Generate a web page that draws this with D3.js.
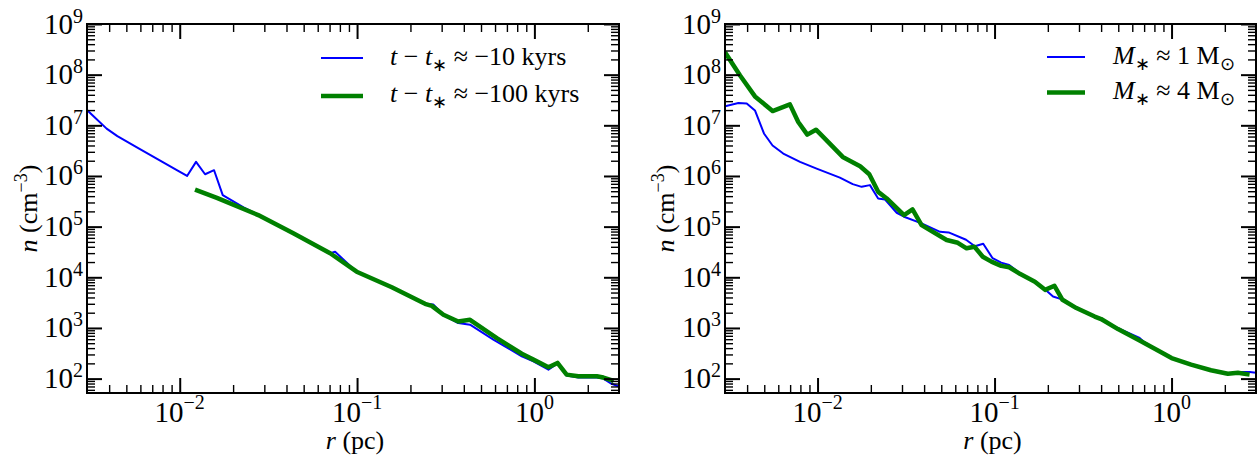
<!DOCTYPE html>
<html><head><meta charset="utf-8">
<script src="https://cdn.jsdelivr.net/npm/d3@7"></script>
<style>body{margin:0;background:#fff} svg{display:block}</style>
</head><body><svg id="c" width="1258" height="459"></svg>
<script>
// ---------- data ----------
const xDomain = [0.003, 3];
const yDomain = [52, 1e9];
const xMajorExp = [-2, -1, 0];
const yMajorExp = [2, 3, 4, 5, 6, 7, 8, 9];

// Left panel: t - t* ~ -10 kyrs (blue), -100 kyrs (green)
const leftBlueR = [0.003,0.00387,0.00445,0.0058,0.0098,0.0110,0.01236,0.0139,0.01562,0.01748,0.0229,0.0277,0.0437,0.0705,0.0752,0.082,0.0995,0.157,0.2417,0.269,0.307,0.372,0.4335,0.587,0.849,0.987,1.2,1.35,1.52,1.77,2.25,2.45,2.7,3.0];
const leftBlueN = [2.0e7,8.6e6,6.1e6,3.6e6,1.26e6,1.0e6,1.9e6,1.08e6,1.3e6,4.2e5,2.4e5,1.72e5,7.5e4,3.0e4,3.2e4,2.4e4,1.27e4,6.3e3,3.0e3,2.9e3,1.8e3,1.25e3,1.16e3,5.9e2,2.75e2,2.2e2,1.5e2,2.0e2,1.15e2,1.05e2,1.05e2,1.0e2,8.0e1,7.0e1];
const leftGreenR = [0.0122,0.0162,0.0277,0.0437,0.0705,0.0995,0.157,0.2417,0.264,0.307,0.372,0.4335,0.614,0.849,0.987,1.2,1.35,1.52,1.77,2.25,2.45,2.8];
const leftGreenN = [5.4e5,3.7e5,1.69e5,7.4e4,2.98e4,1.29e4,6.35e3,3.0e3,2.73e3,1.82e3,1.34e3,1.45e3,6.3e2,3.1e2,2.37e2,1.67e2,2.04e2,1.2e2,1.11e2,1.11e2,1.05e2,9.0e1];

// Right panel: M* ~ 1 Msun (blue), 4 Msun (green)
const rightBlueR = [0.003,0.00357,0.00398,0.00443,0.00498,0.00557,0.0064,0.00796,0.00988,0.01337,0.0158,0.01775,0.01977,0.022,0.024,0.028,0.0308,0.0387,0.0492,0.055,0.069,0.0774,0.0863,0.0975,0.109,0.121,0.139,0.169,0.196,0.214,0.238,0.296,0.368,0.4,0.498,0.66,0.7,0.838,1.0,1.29,1.67,2.08,2.37,2.76,3.0];
const rightBlueN = [2.37e7,2.75e7,2.7e7,1.97e7,6.9e6,4.0e6,2.77e6,1.9e6,1.4e6,9.3e5,6.9e5,6.1e5,6.6e5,3.6e5,3.44e5,1.88e5,1.57e5,1.16e5,7.9e4,7.7e4,5.5e4,4.1e4,4.6e4,2.38e4,1.95e4,1.75e4,1.2e4,8.2e3,5.47e3,4.17e3,3.7e3,2.47e3,1.68e3,1.5e3,9.95e2,6.33e2,5.3e2,3.6e2,2.55e2,1.89e2,1.46e2,1.25e2,1.35e2,1.35e2,1.3e2];
const rightGreenR = [0.003,0.00365,0.00443,0.00557,0.00698,0.00778,0.00875,0.0098,0.0110,0.01387,0.0174,0.0196,0.022,0.0246,0.0308,0.0344,0.0387,0.0536,0.062,0.0695,0.077,0.0858,0.096,0.109,0.121,0.139,0.169,0.193,0.218,0.242,0.29,0.368,0.4,0.498,0.66,0.838,1.0,1.29,1.67,2.08,2.37,2.76];
const rightGreenN = [2.77e8,9.6e7,3.72e7,1.91e7,2.59e7,1.16e7,6.56e6,8.2e6,5.47e6,2.38e6,1.56e6,1.08e6,4.86e5,3.6e5,1.69e5,2.19e5,1.07e5,5.44e4,4.8e4,3.73e4,4.0e4,2.55e4,2.04e4,1.68e4,1.58e4,1.17e4,8.2e3,5.65e3,6.8e3,3.6e3,2.47e3,1.68e3,1.5e3,9.5e2,5.67e2,3.6e2,2.55e2,1.89e2,1.46e2,1.25e2,1.3e2,1.2e2];

const NB = "\u00a0";
const leftLegend = [
  {parts:[["t","i"],[NB+"−"+NB,""],["t","i"],["∗","sub"],[NB+"≈"+NB+"−10"+NB+"kyrs",""]], series:"blue"},
  {parts:[["t","i"],[NB+"−"+NB,""],["t","i"],["∗","sub"],[NB+"≈"+NB+"−100"+NB+"kyrs",""]], series:"green"}
];
const rightLegend = [
  {parts:[["M","i"],["∗","sub"],[NB+"≈"+NB+"1"+NB+"M",""],["⊙","sub"]], series:"blue"},
  {parts:[["M","i"],["∗","sub"],[NB+"≈"+NB+"4"+NB+"M",""],["⊙","sub"]], series:"green"}
];

// ---------- style ----------
const FONT = "Liberation Serif";
const styles = {blue:{color:"#0000ff", width:2}, green:{color:"#008000", width:4.5}};
const legendStyles = {blue:{color:"#0000ff", width:2.2}, green:{color:"#008000", width:4.5}};

const panels = [
  {x0:87, x1:619, y0:24, y1:393, blue:[leftBlueR,leftBlueN], green:[leftGreenR,leftGreenN],
   legend:leftLegend, legLine:[321,363], legY:[58,96], legText:390, legBase:[65,102], ylabX:37},
  {x0:725, x1:1256, y0:24, y1:393, blue:[rightBlueR,rightBlueN], green:[rightGreenR,rightGreenN],
   legend:rightLegend, legLine:[1047,1085], legY:[57,92.5], legText:1113, legBase:[63.5,99], ylabX:674}
];

const svg = d3.select("#c");
svg.append("rect").attr("width",1258).attr("height",459).attr("fill","#fff");

function minorVals(lo, hi, e0, e1){
  const v=[];
  for(let e=e0;e<=e1;e++) for(let m=2;m<=9;m++){const t=m*Math.pow(10,e); if(t>lo && t<hi) v.push(t);}
  return v;
}
// Draw a sequence of text runs as separate <text> elements (no tspans).
function runs(parent, x, y, items, anchor, rotate){
  const g2 = parent.append("g");
  const inner = g2.append("g");
  let cx = 0;
  items.forEach(it=>{
    const e = inner.append("text").attr("x",cx).attr("y",it.dy||0)
      .attr("font-size",it.size).attr("font-family",FONT).style("font-family",FONT)
      .attr("fill","#000").text(it.t);
    if(it.italic) e.attr("font-style","italic").style("font-style","italic");
    cx += e.node().getComputedTextLength();
  });
  const shift = anchor==="end" ? -cx : anchor==="middle" ? -cx/2 : 0;
  inner.attr("transform",`translate(${shift},0)`);
  g2.attr("transform",`translate(${x},${y})` + (rotate?` rotate(${rotate})`:""));
  return g2;
}

panels.forEach((p,pi)=>{
  const x = d3.scaleLog().domain(xDomain).range([p.x0,p.x1]);
  const y = d3.scaleLog().domain(yDomain).range([p.y1,p.y0]);
  const W = p.x1-p.x0, H = p.y1-p.y0;
  const g = svg.append("g");
  const clipId = "clip"+pi;
  svg.append("clipPath").attr("id",clipId).append("rect")
     .attr("x",p.x0).attr("y",p.y0).attr("width",W).attr("height",H);

  // curves
  const line = d3.line().x(d=>x(d[0])).y(d=>y(d[1]));
  ["blue","green"].forEach(s=>{
    const [R,N]=p[s];
    const pts = R.map((r,i)=>[r,N[i]]);
    g.append("path").datum(pts).attr("d",line).attr("fill","none")
     .attr("stroke",styles[s].color).attr("stroke-width",styles[s].width)
     .attr("stroke-linejoin","round").attr("clip-path",`url(#${clipId})`);
  });

  // ticks
  const xMaj = xMajorExp.map(e=>Math.pow(10,e));
  const xMin = minorVals(xDomain[0],xDomain[1],-3,0);
  const yMaj = yMajorExp.map(e=>Math.pow(10,e)).filter(v=>v>=yDomain[0]&&v<=yDomain[1]);
  const yMin = minorVals(yDomain[0],yDomain[1],1,8);
  const MAJ=15, MIN=8;
  function ax(axisFn, scale, vals, len, w, tr){
    const a = g.append("g").attr("transform",tr)
      .call(axisFn(scale).tickValues(vals).tickSize(-len).tickFormat(""));
    a.select(".domain").remove();
    a.selectAll(".tick text").remove();
    a.selectAll(".tick line").attr("stroke","#000").attr("stroke-width",w);
  }
  ax(d3.axisBottom,x,xMaj,MAJ,2,`translate(0,${p.y1})`);
  ax(d3.axisBottom,x,xMin,MIN,1.4,`translate(0,${p.y1})`);
  ax(d3.axisTop,x,xMaj,MAJ,2,`translate(0,${p.y0})`);
  ax(d3.axisTop,x,xMin,MIN,1.4,`translate(0,${p.y0})`);
  ax(d3.axisLeft,y,yMaj,MAJ,2,`translate(${p.x0},0)`);
  ax(d3.axisLeft,y,yMin,MIN,1.4,`translate(${p.x0},0)`);
  ax(d3.axisRight,y,yMaj,MAJ,2,`translate(${p.x1},0)`);
  ax(d3.axisRight,y,yMin,MIN,1.4,`translate(${p.x1},0)`);

  // frame
  g.append("rect").attr("x",p.x0).attr("y",p.y0).attr("width",W).attr("height",H)
   .attr("fill","none").attr("stroke","#000").attr("stroke-width",2);

  // tick labels
  function powLabel(px,py,exp,anchor,raise){
    runs(g, px, py, [{t:"10",size:29},{t:String(exp).replace("-","−"),size:20,dy:-raise}], anchor);
  }
  xMajorExp.forEach(e=>powLabel(x(Math.pow(10,e)), 421.5, e, "middle", 13));
  yMajorExp.forEach(e=>powLabel(p.x0-4, y(Math.pow(10,e))+9.5, e, "end", 11));

  // axis labels
  runs(g, (p.x0+p.x1)/2+2, 449, [{t:"r",size:26,italic:true},{t:NB+"(pc)",size:26}], "middle");
  runs(g, p.ylabX, (p.y0+p.y1)/2,
       [{t:"n",size:26,italic:true},{t:NB+"(cm",size:26},{t:"−3",size:18,dy:-10},{t:")",size:26}],
       "middle", -90);

  // legend
  p.legend.forEach((L,i)=>{
    const ls = legendStyles[L.series];
    g.append("line").attr("x1",p.legLine[0]).attr("x2",p.legLine[1])
     .attr("y1",p.legY[i]).attr("y2",p.legY[i]).attr("stroke",ls.color).attr("stroke-width",ls.width);
    const items = L.parts.map(([s,k])=>({t:s, size:k==="sub"?18:26, italic:k==="i", dy:k==="sub"?6:0}));
    runs(g, p.legText, p.legBase[i], items, "start");
  });
});
</script></body></html>
